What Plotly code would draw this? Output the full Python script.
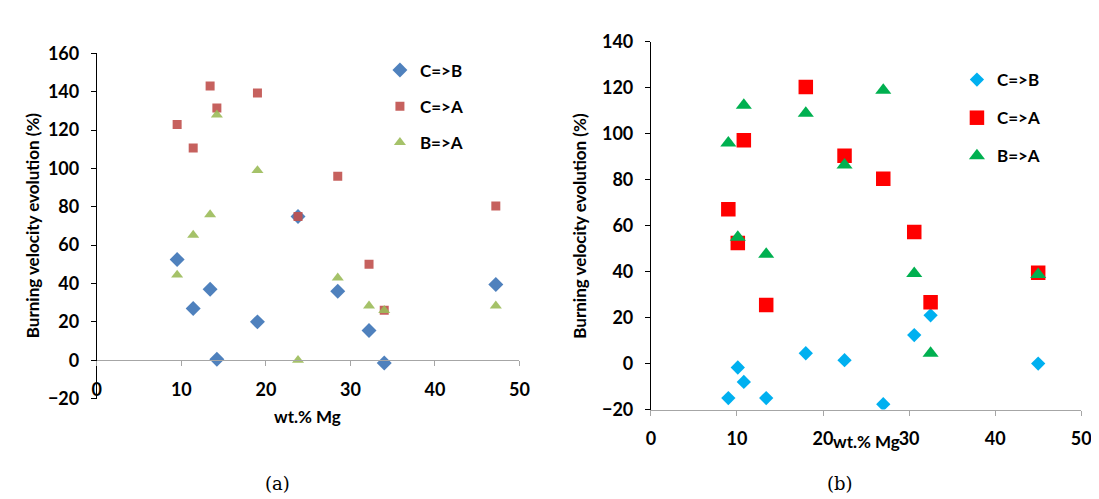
import plotly.graph_objects as go

W, H = 1099, 499

# ---------------- data ----------------
series_names = ["C=>B", "C=>A", "B=>A"]

# panel (a)
a_mg = [9.5, 11.4, 13.4, 14.2, 19.0, 23.8, 28.5, 32.2, 34.0, 47.2]
a_cb = [52.5, 27.0, 37.0, 0.5, 20.0, 75.0, 36.0, 15.5, -1.5, 39.5]
a_ca = [123.0, 110.7, 143.0, 131.6, 139.4, 75.0, 96.0, 50.0, 26.0, 80.4]
a_ba = [44.5, 65.3, 76.0, 128.0, 99.0, 0.0, 43.0, 28.4, 26.0, 28.4]

# panel (b)
b_mg = [9.0, 10.1, 10.8, 13.4, 18.0, 22.5, 27.0, 30.6, 32.5, 45.0]
b_cb = [-15.0, -1.7, -8.0, -15.0, 4.5, 1.5, -17.7, 12.4, 21.0, 0.0]
b_ca = [67.2, 52.5, 97.2, 25.5, 120.4, 90.5, 80.5, 57.3, 26.7, 39.5]
b_ba = [96.0, 55.0, 112.5, 47.6, 109.0, 86.5, 119.0, 39.2, 4.5, 38.8]

x_ticks = [0, 10, 20, 30, 40, 50]
a_y_ticks = [-20, 0, 20, 40, 60, 80, 100, 120, 140, 160]
b_y_ticks = [-20, 0, 20, 40, 60, 80, 100, 120, 140]

x_title = "wt.% Mg"
y_title = "Burning velocity evolution (%)"
panel_labels = ["(a)", "(b)"]

# ---------------- styling ----------------
FONT = "Lato"
a_colors = ["#4F81BD", "#C0504D", "#9BBB59"]
b_colors = ["#00B0F0", "#FF0000", "#00B050"]
symbols = ["diamond", "square", "triangle-up"]
a_sizes = [11.5, 9, 10.5]
b_sizes = [11, 14.5, 14]
a_opac = [1.0, 0.9, 0.9]


def px_x(p):
    return p / W


def px_y(p):
    return 1 - p / H


fig = go.Figure()

a_vals = [a_cb, a_ca, a_ba]
b_vals = [b_cb, b_ca, b_ba]
for i, name in enumerate(series_names):
    fig.add_trace(go.Scatter(
        x=a_mg, y=a_vals[i], mode="markers", name=name,
        marker=dict(symbol=symbols[i], color=a_colors[i], size=a_sizes[i],
                    opacity=a_opac[i], line=dict(width=0)),
        xaxis="x", yaxis="y", legend="legend", legendgroup="a%d" % i))
for i, name in enumerate(series_names):
    fig.add_trace(go.Scatter(
        x=b_mg, y=b_vals[i], mode="markers", name=name,
        marker=dict(symbol=symbols[i], color=b_colors[i], size=b_sizes[i],
                    line=dict(width=0)),
        xaxis="x2", yaxis="y2", legend="legend2", legendgroup="b%d" % i))

tickfont = dict(family=FONT, size=18, color="black", weight="bold")

# panel a geometry
a_xdom = [px_x(85), px_x(513.5)]
a_ydom = [px_y(396), px_y(35)]
a_yr = [-20, 160]
a_xpos = a_ydom[0] + (0 - a_yr[0]) / (a_yr[1] - a_yr[0]) * (a_ydom[1] - a_ydom[0])

# panel b geometry
b_xdom = [px_x(646.7), px_x(1083)]
b_ydom = [px_y(407.5), px_y(23)]
b_yr = [-20, 140]

xcommon = dict(range=[0, 50], tickvals=x_ticks, showline=True, linecolor="#A6A6A6",
               linewidth=1, ticks="outside", ticklen=5, tickcolor="#A6A6A6",
               showgrid=False, zeroline=False, tickfont=tickfont,
               ticklabelstandoff=8, fixedrange=True)
ycommon = dict(showline=True, linecolor="black", linewidth=1, ticks="outside",
               ticklen=5, tickcolor="black", showgrid=False, zeroline=False,
               tickfont=tickfont, ticklabelstandoff=8, fixedrange=True)

legfont = dict(family=FONT, size=17, color="black", weight="bold")
fig.update_layout(
    width=W, height=H,
    margin=dict(l=0, r=0, t=0, b=0),
    paper_bgcolor="white", plot_bgcolor="white",
    font=dict(family=FONT, color="black"),
    xaxis=dict(domain=a_xdom, anchor="free", position=a_xpos, **xcommon),
    yaxis=dict(domain=a_ydom, range=a_yr, tickvals=a_y_ticks, anchor="x", **ycommon),
    xaxis2=dict(domain=b_xdom, anchor="y2", **xcommon),
    yaxis2=dict(domain=b_ydom, range=b_yr, tickvals=b_y_ticks, anchor="x2", **ycommon),
    legend=dict(x=px_x(372), y=px_y(34), xanchor="left", yanchor="top",
                bgcolor="rgba(0,0,0,0)", tracegroupgap=11, font=legfont),
    legend2=dict(x=px_x(957), y=px_y(44), xanchor="left", yanchor="top",
                 bgcolor="rgba(0,0,0,0)", tracegroupgap=13, font=legfont),
    showlegend=True,
)

title_font = dict(family=FONT, size=17, color="black", weight="bold")
ann = [
    dict(x=px_x(299), y=px_y(415), text=x_title, font=title_font),
    dict(x=px_x(865), y=px_y(441), text=x_title, font=title_font),
    dict(x=px_x(20), y=px_y(215), text=y_title, textangle=-90, font=title_font),
    dict(x=px_x(574), y=px_y(215), text=y_title, textangle=-90, font=title_font),
    dict(x=px_x(268), y=px_y(485), text=panel_labels[0],
         font=dict(family="DejaVu Serif", size=18, color="black")),
    dict(x=px_x(838), y=px_y(485), text=panel_labels[1],
         font=dict(family="DejaVu Serif", size=18, color="black")),
]
for a in ann:
    a.update(xref="paper", yref="paper", showarrow=False, xanchor="center", yanchor="middle")
fig.update_layout(annotations=ann)

fig.write_html("out.html")
